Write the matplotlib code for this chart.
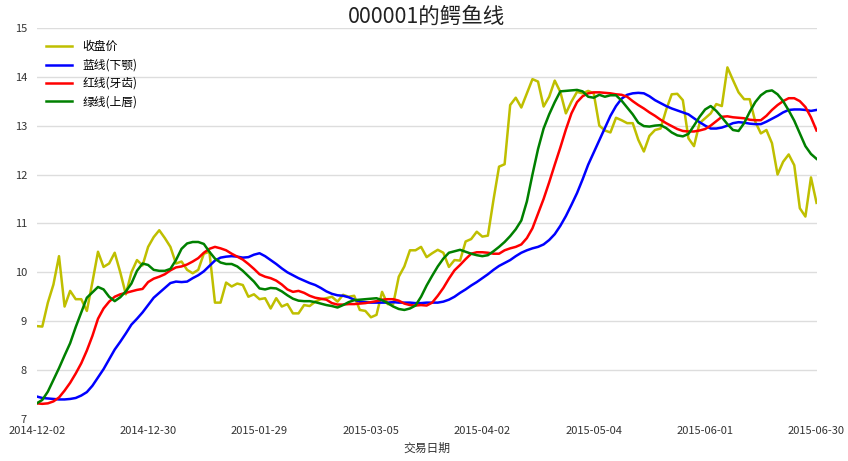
import matplotlib
matplotlib.use("Agg")
import matplotlib.pyplot as plt
import numpy as np

plt.rcParams['font.family'] = ['Noto Sans CJK SC', 'DejaVu Sans']
plt.rcParams['axes.unicode_minus'] = False

title = "000001的鳄鱼线"
xlabel = "交易日期"
tick_labels = ["2014-12-02", "2014-12-30", "2015-01-29", "2015-03-05",
               "2015-04-02", "2015-05-04", "2015-06-01", "2015-06-30"]
tick_step = 20  # trading days between labelled dates

close = [8.90, 8.89, 9.38, 9.75, 10.33, 9.30, 9.62, 9.45, 9.45, 9.21,
         9.80, 10.42, 10.11, 10.18, 10.40, 10.00, 9.55, 10.00, 10.25, 10.14,
         10.52, 10.72, 10.86, 10.70, 10.52, 10.18, 10.22, 10.05, 9.98, 10.05,
         10.38, 10.42, 9.38, 9.38, 9.79, 9.71, 9.77, 9.74, 9.50, 9.55,
         9.45, 9.47, 9.26, 9.47, 9.30, 9.35, 9.16, 9.16, 9.33, 9.31,
         9.40, 9.45, 9.47, 9.50, 9.40, 9.54, 9.50, 9.52, 9.23, 9.21,
         9.08, 9.13, 9.60, 9.35, 9.35, 9.91, 10.12, 10.45, 10.45, 10.52,
         10.31, 10.39, 10.46, 10.40, 10.11, 10.25, 10.24, 10.63, 10.68, 10.83,
         10.73, 10.75, 11.48, 12.16, 12.21, 13.42, 13.57, 13.37, 13.66, 13.95,
         13.90, 13.39, 13.59, 13.92, 13.69, 13.25, 13.49, 13.69, 13.66, 13.71,
         13.66, 13.00, 12.90, 12.86, 13.16, 13.11, 13.05, 13.05, 12.71, 12.47,
         12.79, 12.91, 12.94, 13.32, 13.64, 13.65, 13.52, 12.74, 12.58, 13.05,
         13.15, 13.25, 13.44, 13.40, 14.19, 13.93, 13.68, 13.54, 13.54, 13.08,
         12.84, 12.91, 12.64, 12.00, 12.26, 12.41, 12.19, 11.31, 11.14, 11.94,
         11.42]

jaw = [7.46, 7.43, 7.42, 7.41, 7.40, 7.40, 7.41, 7.43, 7.48, 7.55,
       7.68, 7.85, 8.02, 8.22, 8.42, 8.58, 8.75, 8.93, 9.05, 9.18,
       9.33, 9.48, 9.58, 9.68, 9.78, 9.81, 9.80, 9.81, 9.88, 9.94,
       10.02, 10.13, 10.24, 10.30, 10.32, 10.33, 10.32, 10.30, 10.31, 10.36,
       10.39, 10.33, 10.25, 10.17, 10.08, 10.00, 9.94, 9.88, 9.83, 9.78,
       9.74, 9.68, 9.61, 9.56, 9.53, 9.52, 9.49, 9.44, 9.40, 9.39,
       9.38, 9.38, 9.38, 9.38, 9.39, 9.38, 9.38, 9.38, 9.37, 9.37,
       9.38, 9.38, 9.38, 9.40, 9.44, 9.50, 9.58, 9.65, 9.73, 9.80,
       9.88, 9.96, 10.05, 10.13, 10.19, 10.25, 10.33, 10.40, 10.45, 10.49,
       10.52, 10.57, 10.66, 10.78, 10.95, 11.15, 11.38, 11.62, 11.90, 12.20,
       12.45, 12.70, 12.95, 13.20, 13.40, 13.55, 13.63, 13.66, 13.67, 13.66,
       13.60, 13.52, 13.46, 13.40, 13.35, 13.31, 13.27, 13.23, 13.15, 13.07,
       13.00, 12.94, 12.94, 12.96, 13.00, 13.05, 13.07, 13.06, 13.04, 13.03,
       13.03, 13.08, 13.14, 13.20, 13.27, 13.32, 13.33, 13.33, 13.32, 13.30,
       13.32]

teeth = [7.32, 7.31, 7.32, 7.36, 7.44, 7.58, 7.74, 7.93, 8.14, 8.40,
         8.70, 9.05, 9.26, 9.40, 9.50, 9.55, 9.58, 9.61, 9.64, 9.66,
         9.80, 9.87, 9.91, 9.96, 10.04, 10.10, 10.12, 10.16, 10.22, 10.29,
         10.40, 10.48, 10.52, 10.49, 10.45, 10.38, 10.32, 10.26, 10.17, 10.07,
         9.96, 9.91, 9.88, 9.83, 9.75, 9.65, 9.60, 9.62, 9.58, 9.52,
         9.48, 9.46, 9.44, 9.37, 9.34, 9.34, 9.35, 9.35, 9.36, 9.37,
         9.39, 9.41, 9.44, 9.45, 9.45, 9.42, 9.36, 9.33, 9.32, 9.33,
         9.32, 9.38, 9.52, 9.68, 9.87, 10.04, 10.15, 10.27, 10.38, 10.41,
         10.41, 10.40, 10.38, 10.38, 10.45, 10.49, 10.52, 10.57, 10.70, 10.90,
         11.20, 11.50, 11.84, 12.20, 12.55, 12.92, 13.25, 13.48, 13.60, 13.66,
         13.68, 13.68, 13.67, 13.66, 13.64, 13.63, 13.59, 13.50, 13.42, 13.35,
         13.27, 13.20, 13.12, 13.05, 12.99, 12.93, 12.89, 12.88, 12.88, 12.90,
         12.93, 13.00, 13.09, 13.18, 13.19, 13.17, 13.16, 13.15, 13.12, 13.11,
         13.11, 13.20, 13.32, 13.42, 13.50, 13.56, 13.56, 13.50, 13.38, 13.17,
         12.90]

lips = [7.32, 7.39, 7.56, 7.80, 8.04, 8.30, 8.55, 8.88, 9.18, 9.48,
        9.59, 9.70, 9.65, 9.50, 9.41, 9.49, 9.61, 9.77, 10.03, 10.18,
        10.15, 10.05, 10.03, 10.03, 10.07, 10.25, 10.48, 10.59, 10.62, 10.62,
        10.58, 10.42, 10.28, 10.20, 10.17, 10.17, 10.12, 10.03, 9.92, 9.81,
        9.67, 9.65, 9.68, 9.67, 9.61, 9.53, 9.46, 9.42, 9.41, 9.41,
        9.39, 9.36, 9.33, 9.31, 9.28, 9.33, 9.39, 9.43, 9.44, 9.45,
        9.46, 9.47, 9.43, 9.37, 9.30, 9.25, 9.23, 9.26, 9.32, 9.50,
        9.73, 9.93, 10.12, 10.28, 10.40, 10.43, 10.46, 10.42, 10.38, 10.35,
        10.33, 10.35, 10.43, 10.52, 10.62, 10.74, 10.88, 11.06, 11.45, 12.00,
        12.52, 12.94, 13.23, 13.48, 13.70, 13.71, 13.72, 13.73, 13.70, 13.59,
        13.57, 13.63, 13.59, 13.62, 13.62, 13.51, 13.37, 13.23, 13.06, 12.99,
        12.98, 13.00, 13.01, 12.95, 12.86, 12.80, 12.78, 12.83, 13.00, 13.18,
        13.33, 13.40, 13.30, 13.17, 13.03, 12.91, 12.89, 13.05, 13.28, 13.48,
        13.62, 13.70, 13.72, 13.64, 13.50, 13.31, 13.10, 12.84, 12.58, 12.42,
        12.32]

series_names = ["收盘价", "蓝线(下颚)", "红线(牙齿)", "绿线(上唇)"]
series_colors = ["y", "b", "r", "g"]

fig = plt.figure(figsize=(8.48, 4.61), dpi=100)
ax = fig.add_axes([0.0433, 0.0911, 0.9196, 0.8486])

x = np.arange(len(close))
for data, name, col in zip([close, jaw, teeth, lips], series_names, series_colors):
    ax.plot(x, data, color=col, lw=1.8, label=name)

ax.set_xlim(0, len(close) - 1)
ax.set_ylim(7, 15)
ax.set_yticks(range(7, 16))
ax.set_xticks(range(0, len(close), tick_step))
ax.set_xticklabels(tick_labels)

for s in ax.spines.values():
    s.set_visible(False)
ax.grid(axis='y', color='#dddddd', lw=1.0)
ax.yaxis.get_gridlines()[0].set_visible(False)
ax.set_axisbelow(True)
ax.tick_params(axis='both', length=0, labelsize=8, colors='#333333')
ax.tick_params(axis='y', pad=7)
ax.tick_params(axis='x', pad=5)

ax.set_title(title, fontsize=15.5, color='#222222', pad=1)
ax.set_xlabel(xlabel, fontsize=8.5, color='#333333', labelpad=4)

leg = ax.legend(loc='upper left', frameon=False, fontsize=8.5,
                handlelength=2.2, handletextpad=0.85, labelspacing=0.45,
                borderaxespad=0.4, bbox_to_anchor=(0.0, 0.992))

fig.savefig("out.png", dpi=100)
